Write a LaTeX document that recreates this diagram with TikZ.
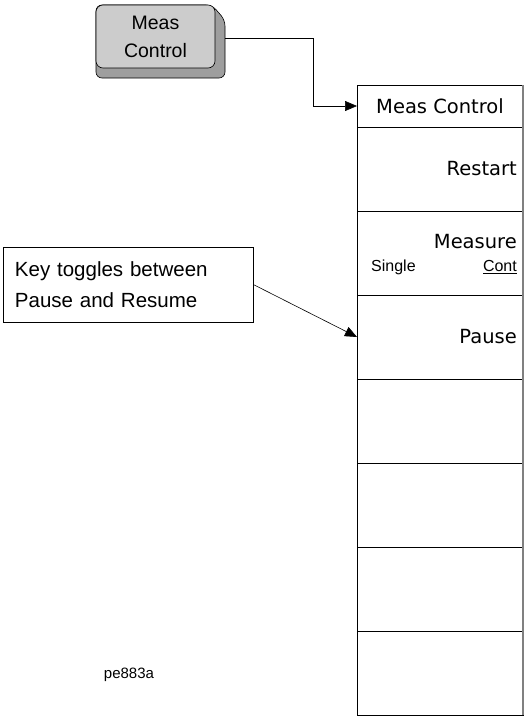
\documentclass[tikz,border=0pt]{standalone}
\usepackage{fontspec}
\setmainfont{Liberation Sans}
\newfontfamily\menufont{DejaVu Sans}
\usetikzlibrary{positioning,arrows.meta}

\begin{document}
\begin{tikzpicture}[x=1pt,y=-1pt,
        softkey/.style={draw,line width=0.9pt,minimum width=166pt,minimum height=84pt,inner sep=0pt,outer sep=0pt},
        keytext/.style={anchor=east,inner sep=0pt,font=\menufont\fontsize{19.5}{19.5}\selectfont},
        tip/.style={-{Triangle[length=12pt,width=10pt]},line width=0.6pt}]
    \useasboundingbox (0,0) rectangle (529,718);
    %% Hard key
    \draw[fill=black!38,line width=0.6pt,rounded corners=6pt] (96,5) -- (212,5) -- (225,20) -- (225,78) -- (96,78) -- cycle;
    \node[draw,fill=black!20,line width=0.6pt,rounded corners=7pt,minimum width=119pt,minimum height=63pt,
          align=center,font=\fontsize{19.5}{28}\selectfont] (key) at (155.5,36.5) {Meas\\Control};
    \coordinate (keyout) at (225,38);
    \coordinate (bend) at (313,106);
    %% Menu panel
    \node[softkey,minimum height=42pt,font=\menufont\fontsize{19.5}{19.5}\selectfont] (hdr) at (440,106) {Meas Control};
    \node[softkey,below=0pt of hdr] (restart) {};
    \node[softkey,below=0pt of restart] (measure) {};
    \node[softkey,below=0pt of measure] (pause) {};
    \node[softkey,below=0pt of pause] (blanka) {};
    \node[softkey,below=0pt of blanka] (blankb) {};
    \node[softkey,below=0pt of blankb] (blankc) {};
    \node[softkey,below=0pt of blankc] (blankd) {};
    \draw[black!50,line width=1.6pt] (hdr.north east) -- (blankd.south east);
    \node[keytext] at ([xshift=-6pt]restart.east) {Restart};
    \node[keytext] at ([xshift=-6pt,yshift=11pt]measure.east) {Measure};
    \node[anchor=west,inner sep=0pt,font=\fontsize{16}{16}\selectfont] at ([xshift=14pt,yshift=-14pt]measure.west) {Single};
    \node[anchor=east,inner sep=0pt,font=\fontsize{16}{16}\selectfont] at ([xshift=-6pt,yshift=-14pt]measure.east) {\underline{Cont}};
    \node[keytext] at ([xshift=-6pt]pause.east) {Pause};
    %% Callout
    \node[draw,line width=0.6pt,minimum width=250pt,minimum height=75pt,inner sep=0pt,
          text width=226pt,align=left,font=\fontsize{20.5}{31}\selectfont] (note) at (128,284.5)
          {Key toggles between\\Pause and Resume};
    %% Connectors
    \draw[tip] (keyout) -| (bend) -- (hdr.west);
    \draw[tip] (note.east) -- (pause.west);
    \node[font=\fontsize{15}{15}\selectfont] (tag) at (129,675) {pe883a};
\end{tikzpicture}
\end{document}
